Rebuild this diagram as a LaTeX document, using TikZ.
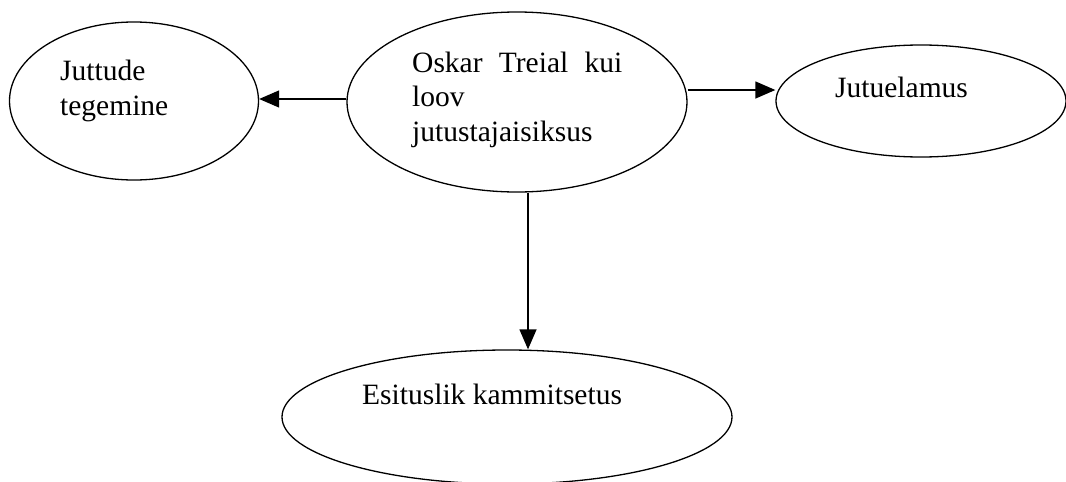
\documentclass[tikz,border=0pt]{standalone}
\usepackage{fontspec}
\setmainfont{Liberation Serif}
\usetikzlibrary{shapes.geometric,arrows.meta}
\begin{document}
\begin{tikzpicture}[x=1pt,y=-1pt,
  bubble/.style={draw, ellipse, line width=1.3pt, inner sep=0pt},
  lbl/.style={anchor=base west, inner sep=0pt, font=\fontsize{29.5}{34.5}\selectfont},
  arr/.style={line width=1.3pt, -{Triangle[length=20pt,width=17pt]}}]
\useasboundingbox (0,0) rectangle (1066,482);
\clip (0,0) rectangle (1066,482);
% ellipses
\node[bubble, minimum width=249pt, minimum height=158pt] (L) at (134,101) {};
\node[bubble, minimum width=340pt, minimum height=180pt] (C) at (517,102) {};
\node[bubble, minimum width=290pt, minimum height=112pt] (R) at (921,101) {};
\node[bubble, minimum width=450pt, minimum height=134pt] (B) at (507,417) {};
% texts
\node[lbl] (t1) at (60,80) {Juttude};
\node[lbl] (t2) at (60,115) {tegemine};
\node[lbl] (t3) at (412,72) {\makebox[210pt][s]{Oskar Treial kui}};
\node[lbl] (t4) at (412,106.5) {loov};
\node[lbl] (t5) at (412,141) {jutustajaisiksus};
\node[lbl] (t6) at (835,97) {Jutuelamus};
\node[lbl] (t7) at (362,404) {Esituslik kammitsetus};
% connectors
\coordinate (yl) at (0,99);
\coordinate (yr) at (0,90);
\coordinate (xv) at (528,0);
\draw[arr] (C.west |- yl) -- (L.east |- yl);
\draw[arr] (C.east |- yr) -- (R.west |- yr);
\draw[arr] (C.south -| xv) -- (B.north -| xv);
\end{tikzpicture}
\end{document}
